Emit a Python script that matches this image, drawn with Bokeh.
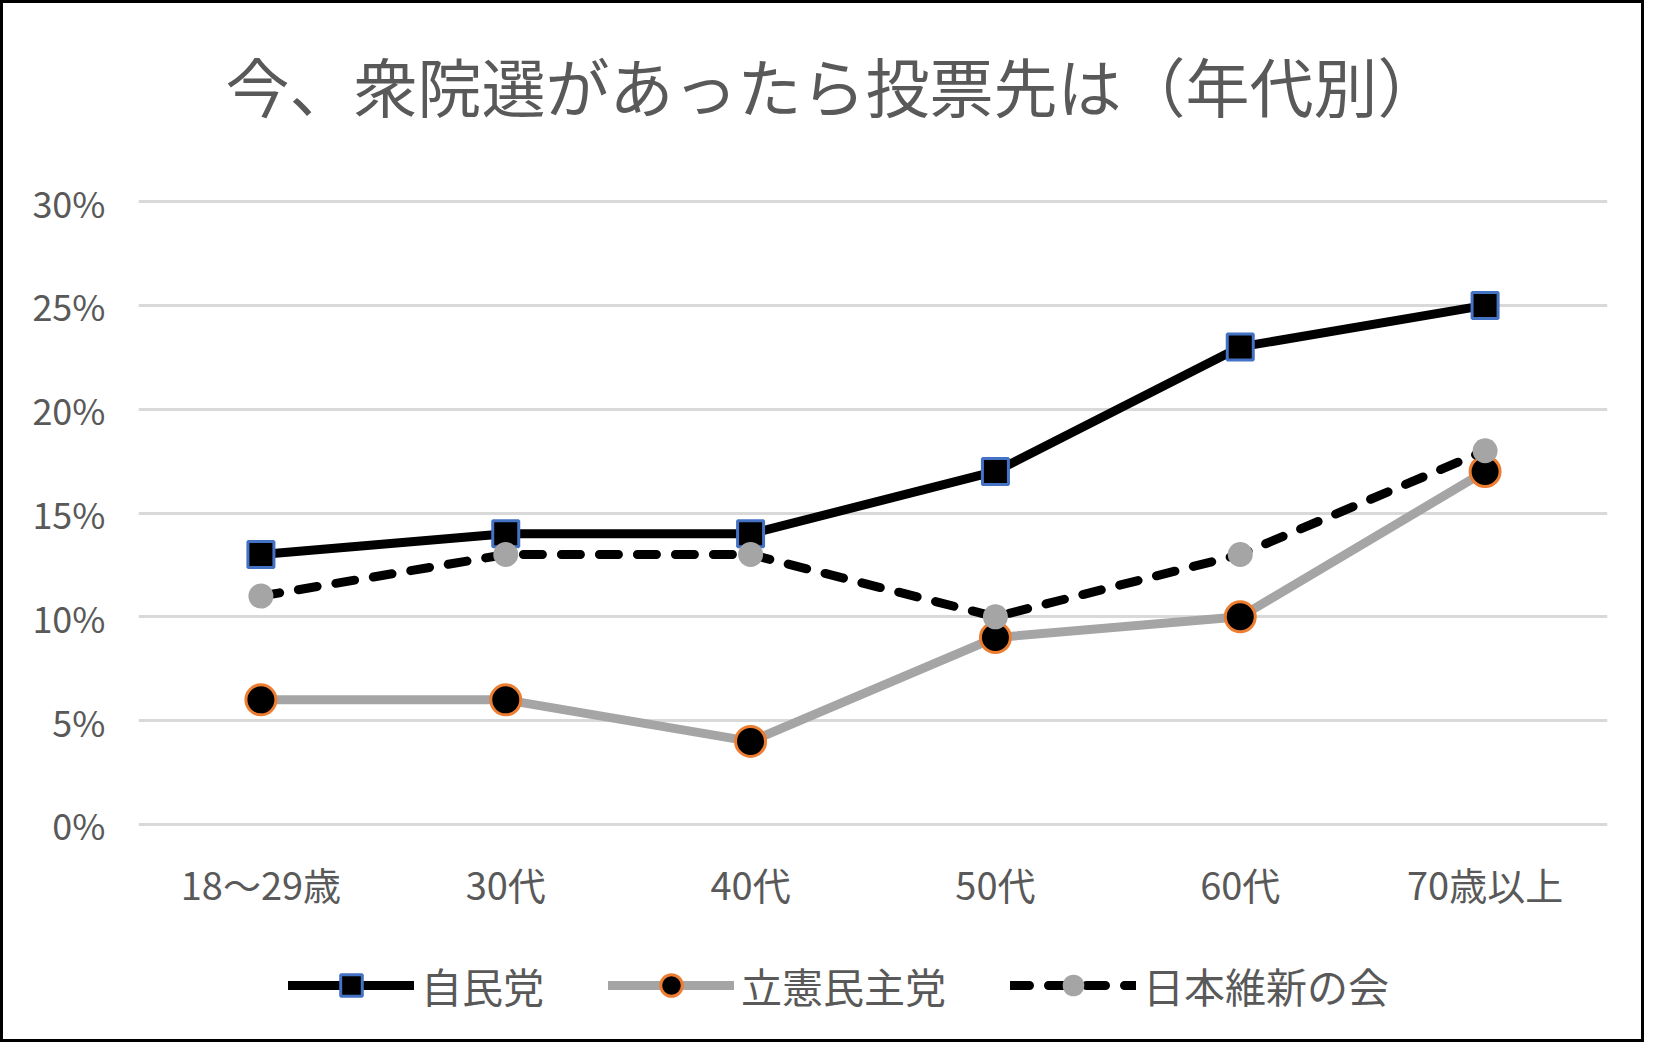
from bokeh.plotting import figure
from bokeh.layouts import column
from bokeh.models import FactorRange, Range1d, FixedTicker, PrintfTickFormatter, Legend, LegendItem, Label
from bokeh.embed import file_html
from bokeh.resources import INLINE

# ---- data ----
categories = ["18～29歳", "30代", "40代", "50代", "60代", "70歳以上"]
ldp = [13, 14, 14, 17, 23, 25]          # 自民党
cdp = [6, 6, 4, 9, 10, 17]              # 立憲民主党
ishin = [11, 13, 13, 10, 13, 18]        # 日本維新の会
series_names = ["自民党", "立憲民主党", "日本維新の会"]
series_values = [ldp, cdp, ishin]
title_text = "今、衆院選があったら投票先は（年代別）"
y_ticks = [0, 5, 10, 15, 20, 25, 30]

FONT = "Noto Sans CJK JP"
TXT = "#595959"
W = 1638
H_TITLE = 160
H_MAIN = 770
H_LEG = 106
BL, BR = 135, 34

styles = [
    dict(line=dict(line_color="black", line_width=9, line_join="round", line_cap="round"),
         marker=dict(marker="square", size=26, fill_color="black", line_color="#4472C4", line_width=3)),
    dict(line=dict(line_color="#A5A5A5", line_width=9, line_join="round", line_cap="round"),
         marker=dict(marker="circle", size=30, fill_color="black", line_color="#ED7D31", line_width=3)),
    dict(line=dict(line_color="black", line_width=9, line_dash="19 19", line_join="round", line_cap="round"),
         marker=dict(marker="circle", size=25, fill_color="#A5A5A5", line_color=None)),
]


def strip(height, x_range, y_range):
    f = figure(width=W, height=height, output_backend="svg", toolbar_location=None,
               x_range=x_range, y_range=y_range,
               x_axis_location=None, y_axis_location=None,
               min_border_left=BL, min_border_right=BR, min_border_top=0, min_border_bottom=0)
    f.grid.visible = False
    f.outline_line_color = None
    f.background_fill_color = "white"
    f.border_fill_color = "white"
    return f


# ---- title strip ----
t = strip(H_TITLE, Range1d(BL, W - BR), Range1d(0, H_TITLE))
t.add_layout(Label(x=830, y=H_TITLE - 80, text=title_text, text_align="center", text_baseline="middle",
                   text_font=FONT, text_font_size="64px", text_color=TXT))

# ---- main chart ----
p = figure(x_range=FactorRange(*categories, range_padding=0),
           y_range=Range1d(-0.1, 30.1),
           width=W, height=H_MAIN, output_backend="svg", toolbar_location=None,
           min_border_left=BL, min_border_right=BR, min_border_top=36, min_border_bottom=107)
p.outline_line_color = None
p.background_fill_color = "white"
p.border_fill_color = "white"

p.yaxis.ticker = FixedTicker(ticks=y_ticks)
p.yaxis.formatter = PrintfTickFormatter(format="%d%%")
for ax in (p.xaxis[0], p.yaxis[0]):
    ax.axis_line_color = None
    ax.major_tick_line_color = None
    ax.minor_tick_line_color = None
    ax.major_tick_out = 0
    ax.major_tick_in = 0
    ax.minor_tick_out = 0
    ax.major_label_text_font = FONT
    ax.major_label_text_color = TXT
p.yaxis.major_label_text_font_size = "36px"
p.xaxis.major_label_text_font_size = "38px"
p.yaxis.major_label_standoff = 33
p.xaxis.major_label_standoff = 29
p.xgrid.grid_line_color = None
p.ygrid.ticker = FixedTicker(ticks=y_ticks)
p.ygrid.grid_line_color = "#d9d9d9"
p.ygrid.grid_line_width = 3

for vals, st in zip(series_values, styles):
    p.line(categories, vals, **st["line"])
    p.scatter(categories, vals, **st["marker"])

# ---- legend strip (same series, y range far from the data so only the legend shows) ----
q = strip(H_LEG, FactorRange(*categories, range_padding=0), Range1d(1000, 1001))
items = []
for name, vals, st in zip(series_names, series_values, styles):
    lr = q.line(categories, vals, **st["line"])
    mr = q.scatter(categories, vals, **st["marker"])
    items.append(LegendItem(label=name, renderers=[lr, mr]))
legend = Legend(items=items, orientation="horizontal", location=(285 - BL, 24),
                label_text_font=FONT, label_text_font_size="41px", label_text_color=TXT,
                glyph_width=126, glyph_height=54, label_height=40, label_standoff=7,
                spacing=64, padding=0, margin=0,
                border_line_color=None, background_fill_color=None)
q.add_layout(legend, "center")

layout = column(t, p, q, spacing=0)
layout.styles = {"border": "3px solid black"}

open("out.html", "w").write(file_html(layout, INLINE))
